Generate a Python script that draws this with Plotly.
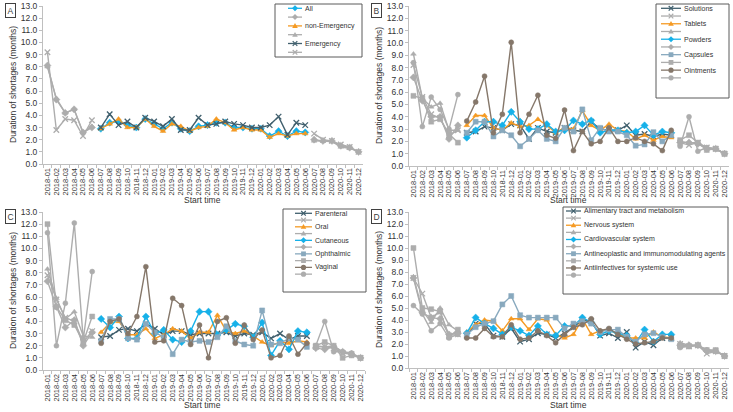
import plotly.graph_objects as go

months = [f"{y}-{m:02d}" for y in (2018, 2019, 2020) for m in range(1, 13)]

# ---- Panel A: all / emergency status ----
A_all = [8.1, 5.3, 4.2, 4.5, 2.6, 3.0,
         2.9, 3.4, 3.5, 3.2, 3.0, 3.7, 3.3, 2.9, 3.4, 2.9, 2.7, 3.1,
         3.2, 3.4, 3.4, 3.0, 3.0, 2.9, 2.9, 2.3, 2.7, 2.3, 2.7, 2.6,
         2.0, 1.9, 1.9, 1.5, 1.35, 1.0]
A_non_emergency = [8.0, 5.4, 4.2, 4.5, 2.6, 3.1,
                   2.9, 3.3, 3.7, 3.0, 3.0, 3.7, 3.1, 2.7, 3.3, 3.1, 2.7, 3.0,
                   3.1, 3.7, 3.4, 2.8, 3.0, 2.8, 2.8, 2.2, 2.5, 2.3, 2.5, 2.5,
                   1.9, 1.9, 1.85, 1.4, 1.3, 1.0]
A_emergency = [9.2, 2.8, 3.7, 3.6, 2.3, 3.6,
               3.0, 4.1, 3.2, 3.5, 3.0, 3.8, 3.5, 3.1, 3.7, 2.8, 2.8, 3.8,
               3.2, 3.3, 3.5, 3.3, 3.2, 3.0, 3.0, 3.2, 3.9, 2.4, 3.4, 3.2,
               2.5, 2.0, 1.9, 1.6, 1.4, 1.0]

# ---- Panel B: dosage forms ----
B_solutions = [8.2, 5.6, 4.2, 3.9, 2.5, 2.9,
               2.7, 2.8, 3.2, 3.1, 2.9, 3.4, 3.3, 2.2, 3.1, 2.8, 2.7, 3.1,
               2.9, 2.8, 3.6, 3.0, 2.9, 2.9, 3.3, 2.5, 2.6, 2.4, 2.6, 2.5,
               1.9, 1.7, 1.9, 1.5, 1.4, 1.0]
B_tablets = [9.1, 5.5, 4.8, 5.1, 2.9, 2.9,
             3.3, 4.1, 4.1, 3.1, 2.9, 3.5, 3.2, 3.3, 3.8, 3.3, 2.7, 3.1,
             3.0, 4.5, 3.3, 2.9, 3.4, 2.9, 2.8, 2.2, 2.5, 2.1, 2.4, 2.3,
             2.0, 1.9, 1.9, 1.4, 1.4, 1.0]
B_powders = [7.2, 5.3, 4.0, 4.0, 2.2, 3.3,
             2.3, 2.9, 3.6, 3.6, 3.3, 4.4, 3.6, 3.0, 3.0, 3.4, 2.8, 2.9,
             3.7, 3.4, 3.7, 2.7, 2.9, 2.9, 2.7, 2.8, 3.3, 2.5, 2.8, 2.7,
             1.9, 1.9, 1.8, 1.4, 1.4, 1.0]
B_capsules = [5.7, 5.5, 3.6, 3.8, 2.6, 1.9,
              2.7, 3.6, 3.6, 2.4, 2.9, 2.5, 1.6, 2.2, 2.9, 2.2, 2.0, 3.1,
              2.8, 4.6, 2.1, 3.1, 2.8, 2.8, 2.5, 1.65, 1.75, 2.75, 2.0, 2.5,
              2.1, 2.5, 1.9, 1.3, 1.4, 1.0]
B_ointments = [8.4, 3.2, 5.6, 4.6, 3.0, 5.8,
               3.65, 5.2, 7.3, 2.7, 4.2, 10.05, 2.7, 4.2, 5.75, 2.5, 2.25, 4.55,
               1.25, 2.8, 1.8, 2.0, 3.1, 2.0, 2.0, 2.3, 2.0, 1.8, 1.25, 2.9,
               1.6, 4.0, 1.2, 1.5, 1.4, 1.0]

# ---- Panel C: routes of administration ----
C_parenteral = [7.8, 5.8, 4.3, 4.0, 2.3, 3.2,
                2.7, 2.8, 3.3, 3.4, 3.2, 3.8, 3.4, 2.9, 3.2, 3.2, 2.9, 3.0,
                3.0, 3.0, 3.1, 2.8, 3.0, 2.9, 3.1, 2.6, 3.0, 2.5, 2.8, 2.8,
                1.9, 1.9, 1.8, 1.4, 1.3, 1.0]
C_oral = [8.3, 5.9, 4.2, 4.8, 2.8, 2.7,
          3.1, 3.9, 4.0, 2.9, 2.9, 3.4, 2.6, 2.9, 3.4, 3.2, 2.6, 3.1,
          3.1, 4.5, 3.2, 3.0, 3.2, 2.8, 2.3, 2.0, 2.3, 2.2, 2.4, 2.3,
          2.0, 1.9, 2.0, 1.5, 1.3, 1.0]
C_cutaneous = [7.3, 5.2, 3.5, 4.1, 2.0, 3.1,
               4.2, 3.5, 4.4, 2.6, 2.6, 4.4, 3.0, 3.3, 2.5, 2.3, 3.2, 4.8,
               4.8, 2.9, 3.3, 3.8, 3.6, 2.7, 3.9, 1.2, 2.4, 1.7, 3.2, 3.1,
               1.8, 1.7, 1.9, 1.5, 1.3, 1.0]
C_ophthalmic = [12.0, 5.2, 4.1, 3.7, 2.3, 4.4,
                2.4, 4.2, 4.2, 2.6, 2.5, 3.8, 3.1, 2.7, 1.3, 2.5, 2.3, 2.4,
                2.3, 2.7, 3.6, 2.4, 2.1, 2.0, 4.9, 2.1, 2.2, 2.6, 2.5, 1.9,
                2.0, 2.3, 2.0, 1.0, 1.2, 1.0]
C_vaginal = [11.3, 2.0, 5.5, 12.1, 2.5, 8.1,
             2.2, 4.0, 4.2, 3.0, 4.4, 8.5, 2.3, 2.4, 5.9, 5.3, 2.1, 3.7,
             1.0, 4.0, 4.3, 2.2, 3.7, 2.5, 3.3, 1.0, 1.2, 2.8, 1.3, 2.2,
             2.0, 4.0, 1.5, 1.5, 1.4, 1.0]

# ---- Panel D: ATC groups ----
D_alimentary = [7.5, 6.2, 4.2, 4.7, 2.7, 2.8,
                2.7, 3.7, 3.7, 2.7, 2.6, 3.3, 2.2, 2.4, 2.9, 2.8, 2.5, 2.9,
                3.4, 4.0, 3.9, 2.7, 2.9, 2.5, 3.0, 1.7, 2.2, 1.9, 2.5, 2.5,
                2.0, 1.8, 1.9, 1.2, 1.4, 1.0]
D_nervous = [7.6, 4.8, 3.8, 5.0, 3.6, 3.1,
             3.0, 3.6, 4.0, 3.9, 3.1, 4.1, 4.1, 3.2, 4.1, 4.0, 2.8, 2.5,
             2.8, 4.1, 2.8, 3.1, 3.2, 2.8, 2.5, 2.5, 2.5, 3.0, 2.6, 2.5,
             2.1, 1.9, 1.9, 1.5, 1.4, 1.0]
D_cardiovascular = [7.5, 4.6, 4.2, 4.1, 2.8, 2.9,
                    2.9, 4.2, 3.7, 3.3, 2.8, 3.4, 3.1, 2.7, 3.5, 2.8, 2.7, 3.5,
                    3.5, 4.2, 3.8, 2.8, 3.1, 2.9, 2.7, 2.1, 3.2, 2.2, 2.8, 2.8,
                    1.9, 1.9, 1.9, 1.4, 1.4, 1.0]
D_antineoplastic = [10.0, 5.0, 4.9, 4.7, 2.6, 3.2,
                    2.8, 3.4, 3.7, 3.9, 5.3, 6.0, 4.4, 4.2, 4.2, 4.2, 4.2, 3.3,
                    3.7, 3.9, 3.7, 3.0, 3.2, 3.2, 2.6, 2.2, 2.8, 2.9, 2.6, 2.4,
                    1.8, 1.8, 1.9, 1.5, 1.5, 1.0]
D_antiinfectives = [5.2, 4.5, 3.1, 3.7, 2.5, 2.8,
                    2.5, 2.5, 3.3, 2.6, 2.6, 3.6, 2.4, 2.5, 3.1, 2.7, 2.1, 2.8,
                    3.4, 3.6, 4.1, 3.1, 3.3, 2.8, 2.4, 2.0, 2.1, 2.2, 2.5, 2.5,
                    1.7, 1.8, 1.9, 1.5, 1.4, 1.0]

yticks = [i for i in range(14)]

# ---------------- styling ----------------
W, H = 733, 412
BLUE = "#16B1E9"
ORANGE = "#F59A23"
DARK = "#41606E"
STEEL = "#88A9BE"
BROWN = "#85776A"
GRAY = "#ADADAD"
AX = "#BFBFBF"
TXT = "#404040"
FONT = "Liberation Sans, Arial, sans-serif"


def px(x):
    return x / W


def py(y):
    return 1 - y / H


panels = [
    dict(label="A", n="", dom_x=(43, 363), dom_y=(6, 164), title_xy=(202, 200),
         series=[("All", A_all, BLUE, "diamond"),
                 ("non-Emergency", A_non_emergency, ORANGE, "triangle-up"),
                 ("Emergency", A_emergency, DARK, "x-thin")],
         leg=dict(box=(275, 4, 362, 57), lx=(288, 302), tx=304, y0=8.3, dy=8.8)),
    dict(label="B", n="2", dom_x=(409, 729), dom_y=(6, 166), title_xy=(568, 200),
         series=[("Solutions", B_solutions, DARK, "x-thin"),
                 ("Tablets", B_tablets, ORANGE, "triangle-up"),
                 ("Powders", B_powders, BLUE, "diamond"),
                 ("Capsules", B_capsules, STEEL, "square"),
                 ("Ointments", B_ointments, BROWN, "circle")],
         leg=dict(box=(656, 4, 729, 98), lx=(661, 681), tx=683, y0=8.3, dy=7.73)),
    dict(label="C", n="3", dom_x=(43, 365), dom_y=(212, 370), title_xy=(202, 405),
         series=[("Parenteral", C_parenteral, DARK, "x-thin"),
                 ("Oral", C_oral, ORANGE, "triangle-up"),
                 ("Cutaneous", C_cutaneous, BLUE, "diamond"),
                 ("Ophthalmic", C_ophthalmic, STEEL, "square"),
                 ("Vaginal", C_vaginal, BROWN, "circle")],
         leg=dict(box=(283, 209, 366, 292), lx=(295, 312), tx=314, y0=213.3, dy=6.76)),
    dict(label="D", n="4", dom_x=(409, 729), dom_y=(212, 368), title_xy=(568, 405),
         series=[("Alimentary tract and metabolism", D_alimentary, DARK, "x-thin"),
                 ("Nervous system", D_nervous, ORANGE, "triangle-up"),
                 ("Cardiovascular system", D_cardiovascular, BLUE, "diamond"),
                 ("Antineoplastic and immunomodulating agents", D_antineoplastic, STEEL, "square"),
                 ("Antiinfectives for systemic use", D_antiinfectives, BROWN, "circle")],
         leg=dict(box=(563, 207, 728, 294), lx=(566, 581), tx=583, y0=211, dy=7.12)),
]

fig = go.Figure()
shapes = []
annotations = []
layout = {}


def marker(sym, color):
    if sym == "x-thin":
        return dict(symbol="x-thin", size=5.5, color=color, line=dict(width=1.3, color=color))
    return dict(symbol=sym, size=5 if sym != "diamond" else 5.5, color=color,
                line=dict(width=0.5, color=color))


def path(points, close=True):
    s = ""
    for k, (x, y) in enumerate(points):
        s += ("M" if k == 0 else "L") + f"{px(x):.5f},{py(y):.5f}"
    return s + ("Z" if close else "")


def legend_marker(sym, cx, cy, color):
    r = 2.6
    if sym == "diamond":
        return dict(type="path", path=path([(cx, cy - 3), (cx + 3, cy), (cx, cy + 3), (cx - 3, cy)]),
                    fillcolor=color, line=dict(width=0), xref="paper", yref="paper", layer="above")
    if sym == "triangle-up":
        return dict(type="path", path=path([(cx, cy - 2.8), (cx + 2.8, cy + 2.0), (cx - 2.8, cy + 2.0)]),
                    fillcolor=color, line=dict(width=0), xref="paper", yref="paper", layer="above")
    if sym == "square":
        return dict(type="rect", x0=px(cx - 2.4), x1=px(cx + 2.4), y0=py(cy + 2.4), y1=py(cy - 2.4),
                    fillcolor=color, line=dict(width=0), xref="paper", yref="paper", layer="above")
    if sym == "circle":
        return dict(type="circle", x0=px(cx - r), x1=px(cx + r), y0=py(cy + r), y1=py(cy - r),
                    fillcolor=color, line=dict(width=0), xref="paper", yref="paper", layer="above")
    d = 2.3
    return dict(type="path",
                path=path([(cx - d, cy - d), (cx + d, cy + d)], False) +
                path([(cx - d, cy + d), (cx + d, cy - d)], False),
                line=dict(width=1.2, color=color), xref="paper", yref="paper", layer="above")


for p in panels:
    xa, ya = "x" + p["n"], "y" + p["n"]
    segments = [(0, 6, True), (6, 30, False), (30, 36, True)]
    for name, vals, color, sym in p["series"]:
        for a, b, gray in segments:
            c = GRAY if gray else color
            fig.add_trace(go.Scatter(
                x=months[a:b], y=vals[a:b], mode="lines+markers", name=name,
                line=dict(color=c, width=1.4), marker=marker(sym, c),
                xaxis=xa, yaxis=ya, showlegend=False, hoverinfo="x+y"))

    x0, x1 = p["dom_x"]
    yt, yb = p["dom_y"]
    layout["xaxis" + p["n"]] = dict(
        domain=[px(x0), px(x1)], anchor=ya, type="category", automargin=False,
        categoryorder="array", categoryarray=months, range=[-0.5, 35.5],
        tickson="boundaries", tickangle=-90, ticks="outside", ticklen=3,
        tickcolor=AX, showline=True, linecolor=AX, linewidth=1, showgrid=False,
        zeroline=False, tickfont=dict(size=7.5, color="#333333", family=FONT),
        tickvals=months, ticktext=months, fixedrange=True)
    layout["yaxis" + p["n"]] = dict(
        domain=[py(yb), py(yt)], anchor=xa, range=[0, 13], tickvals=yticks,
        automargin=False,
        tickformat=".1f", ticks="outside", ticklen=3, tickcolor=AX,
        showline=True, linecolor=AX, linewidth=1, showgrid=False, zeroline=False,
        tickfont=dict(size=8.5, color="#333333", family=FONT), fixedrange=True)

    # axis titles
    annotations.append(dict(text="Duration of shortages (months)", textangle=-90,
                            x=px(x0 - 30), y=py((yt + yb) / 2), xref="paper", yref="paper",
                            showarrow=False, xanchor="center", yanchor="middle",
                            font=dict(size=8.5, color="#333333", family=FONT)))
    tx, ty = p["title_xy"]
    annotations.append(dict(text="Start time", x=px(tx), y=py(ty), xref="paper", yref="paper",
                            showarrow=False, xanchor="center", yanchor="middle",
                            font=dict(size=8.5, color="#333333", family=FONT)))
    # panel label
    annotations.append(dict(text=p["label"], x=px(x0 - 33), y=py(yt - 3), xref="paper",
                            yref="paper", showarrow=False, xanchor="center", yanchor="top",
                            bordercolor=TXT, borderwidth=1, borderpad=1.5, bgcolor="white",
                            font=dict(size=8.5, color=TXT, family=FONT)))

    # legend
    lg = p["leg"]
    bx0, by0, bx1, by1 = lg["box"]
    shapes.append(dict(type="rect", xref="paper", yref="paper", x0=px(bx0), x1=px(bx1),
                       y0=py(by1), y1=py(by0), fillcolor="white",
                       line=dict(color="#5A5A5A", width=1), layer="above"))
    i = 0
    for name, vals, color, sym in p["series"]:
        for nm, c in ((name, color), ("", GRAY)):
            yy = lg["y0"] + i * lg["dy"]
            shapes.append(dict(type="line", xref="paper", yref="paper",
                               x0=px(lg["lx"][0]), x1=px(lg["lx"][1]), y0=py(yy), y1=py(yy),
                               line=dict(color=c, width=1.3), layer="above"))
            shapes.append(legend_marker(sym, (lg["lx"][0] + lg["lx"][1]) / 2, yy, c))
            if nm:
                annotations.append(dict(text=nm, x=px(lg["tx"]), y=py(yy), xref="paper",
                                        yref="paper", showarrow=False, xanchor="left",
                                        yanchor="middle", borderpad=0,
                                        font=dict(size=7, color="#333333", family=FONT)))
            i += 1

fig.update_layout(
    width=W, height=H, margin=dict(l=0, r=0, t=0, b=0),
    paper_bgcolor="white", plot_bgcolor="white", showlegend=False,
    shapes=shapes, annotations=annotations, font=dict(family=FONT), **layout)

fig.write_html("out.html", config={"displayModeBar": False},
               post_script="document.body.style.margin='0';document.body.style.overflow='hidden';")
